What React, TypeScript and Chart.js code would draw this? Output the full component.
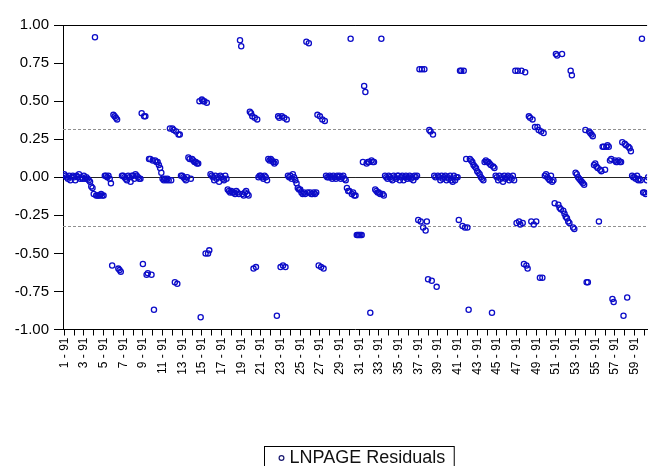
import { useEffect, useRef } from 'react';
import { Chart, registerables } from 'chart.js';

Chart.register(...registerables);

// ---- data ----
const PERIODS_PER_UNIT = 8; // observations per cross-section
const FIRST_PERIOD = '91';
const SERIES_NAME = 'LNPAGE Residuals';
const Y_TICKS = [-1, -0.75, -0.5, -0.25, 0, 0.25, 0.5, 0.75, 1];
const ZERO_LINE = [0];
const BAND_LINES = [0.32, -0.32];

const residuals01to10: number[][] = [
  [0.02, 0.01, 0.0, -0.01, 0.01, -0.02, 0.0, 0.01],
  [0.0, -0.02, 0.01, 0.0, 0.02, -0.01, 0.0, -0.01],
  [0.01, -0.01, 0.0, -0.01, -0.02, -0.03, -0.06, -0.07],
  [-0.11, 0.92, -0.12, -0.12, -0.12, -0.12, -0.11, -0.12],
  [-0.12, 0.01, 0.01, 0.0, 0.01, -0.01, -0.04, -0.58],
  [0.41, 0.4, 0.39, 0.38, -0.6, -0.61, -0.62, 0.01],
  [0.01, 0.0, -0.01, -0.02, 0.01, 0.0, -0.03, 0.01],
  [0.01, -0.01, 0.02, 0.01, 0.0, -0.01, -0.01, 0.42],
  [-0.57, 0.4, 0.4, -0.64, -0.63, 0.12, 0.12, -0.64],
  [0.11, -0.87, 0.11, 0.1, 0.1, 0.08, 0.06, 0.03],
];
const residuals11to20: number[][] = [
  [-0.01, -0.02, -0.01, -0.02, -0.01, -0.02, 0.32, -0.02],
  [0.32, 0.31, -0.69, 0.3, -0.7, 0.28, 0.28, 0.01],
  [0.01, 0.0, -0.01, -0.02, 0.0, 0.13, 0.12, -0.01],
  [0.12, 0.11, 0.1, 0.1, 0.09, 0.09, 0.5, -0.92],
  [0.51, 0.5, 0.5, -0.5, 0.49, -0.5, -0.48, 0.02],
  [0.01, 0.0, -0.02, 0.01, -0.01, 0.0, -0.03, 0.01],
  [0.0, -0.01, -0.02, 0.01, -0.01, -0.08, -0.09, -0.1],
  [-0.09, -0.1, -0.1, -0.11, -0.09, -0.1, -0.11, 0.9],
  [0.86, -0.11, -0.12, -0.1, -0.09, -0.11, -0.12, 0.43],
  [0.42, 0.4, -0.6, 0.39, -0.59, 0.38, 0.0, 0.01],
];
const residuals21to30: number[][] = [
  [0.01, 0.0, -0.01, 0.01, 0.0, -0.02, 0.12, 0.11],
  [0.12, 0.11, 0.1, 0.09, 0.1, -0.91, 0.4, 0.39],
  [-0.59, 0.4, -0.58, 0.39, -0.59, 0.38, 0.01, 0.0],
  [0.01, -0.01, 0.02, 0.0, -0.02, -0.04, -0.07, -0.08],
  [-0.08, -0.1, -0.11, -0.1, -0.11, 0.89, -0.1, 0.88],
  [-0.1, -0.11, -0.11, -0.1, -0.11, -0.1, 0.41, -0.58],
  [0.4, -0.59, 0.38, -0.6, 0.37, 0.01, 0.0, 0.0],
  [0.01, 0.0, -0.01, 0.01, 0.0, -0.01, 0.01, 0.0],
  [0.01, -0.01, 0.0, 0.01, -0.01, -0.02, -0.07, -0.09],
  [-0.09, 0.91, -0.11, -0.1, -0.12, -0.12, -0.38, -0.38],
];
const residuals31to40: number[][] = [
  [-0.38, -0.38, -0.38, 0.1, 0.6, 0.56, 0.09, 0.1],
  [0.1, -0.89, 0.11, 0.1, 0.1, -0.08, -0.09, -0.1],
  [-0.1, -0.11, 0.91, -0.11, -0.12, 0.01, 0.0, -0.01],
  [0.01, 0.0, -0.01, -0.02, 0.01, 0.0, -0.01, 0.01],
  [0.01, -0.02, 0.0, 0.01, -0.02, 0.0, 0.01, -0.01],
  [0.0, 0.01, -0.01, 0.0, -0.02, 0.01, 0.0, 0.01],
  [-0.28, 0.71, -0.29, 0.71, -0.33, 0.71, -0.35, -0.29],
  [-0.67, 0.31, 0.3, -0.68, 0.28, 0.01, 0.0, -0.72],
  [0.01, 0.0, -0.02, 0.01, -0.01, 0.0, 0.01, -0.02],
  [0.0, -0.01, 0.01, -0.02, -0.03, 0.01, -0.02, 0.0],
];
const residuals41to50: number[][] = [
  [0.0, -0.28, 0.7, 0.7, -0.32, 0.7, -0.33, 0.12],
  [-0.33, -0.87, 0.12, 0.11, 0.1, 0.08, 0.07, 0.06],
  [0.04, 0.03, 0.02, 0.0, -0.01, -0.02, 0.1, 0.11],
  [0.1, 0.1, 0.09, 0.08, -0.89, 0.07, 0.06, 0.01],
  [0.0, -0.02, 0.01, -0.01, 0.0, -0.03, 0.01, -0.01],
  [0.0, 0.01, -0.02, 0.0, -0.01, 0.01, -0.02, 0.7],
  [-0.3, 0.7, -0.29, -0.31, 0.7, -0.3, -0.57, 0.69],
  [-0.58, -0.6, 0.4, 0.39, -0.29, 0.38, -0.31, 0.33],
  [-0.29, 0.33, 0.31, -0.66, 0.3, -0.66, 0.29, 0.01],
  [0.02, 0.0, -0.01, -0.02, 0.01, -0.03, -0.02, -0.17],
];
const residuals51to60: number[][] = [
  [0.81, 0.8, -0.18, -0.2, -0.21, 0.81, -0.22, -0.24],
  [-0.26, -0.27, -0.29, -0.3, 0.7, 0.67, -0.33, -0.34],
  [0.03, 0.02, 0.0, -0.01, -0.02, -0.03, -0.04, -0.05],
  [0.31, -0.69, -0.69, 0.3, 0.29, 0.28, 0.27, 0.08],
  [0.09, 0.07, 0.06, -0.29, 0.05, 0.04, 0.2, 0.2],
  [0.05, 0.2, 0.21, 0.2, 0.11, 0.12, -0.8, -0.82],
  [0.11, 0.1, 0.1, 0.11, 0.1, 0.1, 0.23, -0.91],
  [0.22, 0.21, -0.79, 0.2, 0.19, 0.17, 0.01, 0.0],
  [0.0, -0.01, 0.01, -0.02, -0.01, -0.02, 0.91, -0.1],
  [-0.1, -0.11, -0.02, 0.0, -0.01, 0.01, -0.02, 0.0],
];

const allUnits = [
  ...residuals01to10,
  ...residuals11to20,
  ...residuals21to30,
  ...residuals31to40,
  ...residuals41to50,
  ...residuals51to60,
];

const FONT = '"Liberation Sans", Arial, sans-serif';
const POINT_COLOR = '#0c0cc8';

export default function App() {
  const ref = useRef<HTMLCanvasElement>(null);

  useEffect(() => {
    const points = allUnits.flatMap((unit, c) =>
      unit.map((v, t) => ({ x: c * PERIODS_PER_UNIT + t, y: v }))
    );
    const unitTicks = allUnits.map((_, c) => ({ value: c * PERIODS_PER_UNIT }));

    const decor = {
      id: 'decor',
      beforeDatasetsDraw(chart: any) {
        const { ctx, chartArea } = chart;
        const ys = chart.scales.y;
        ctx.save();
        ctx.lineWidth = 1;
        ctx.strokeStyle = '#909090';
        ctx.setLineDash([3, 2]);
        BAND_LINES.forEach((v) => {
          const py = Math.round(ys.getPixelForValue(v)) + 0.5;
          ctx.beginPath();
          ctx.moveTo(chartArea.left, py);
          ctx.lineTo(chartArea.right, py);
          ctx.stroke();
        });
        ctx.setLineDash([]);
        ctx.strokeStyle = '#222';
        ZERO_LINE.forEach((v) => {
          const py = Math.round(ys.getPixelForValue(v)) + 0.5;
          ctx.beginPath();
          ctx.moveTo(chartArea.left, py);
          ctx.lineTo(chartArea.right, py);
          ctx.stroke();
        });
        // top frame
        ctx.strokeStyle = '#000';
        ctx.beginPath();
        ctx.moveTo(chartArea.left, Math.round(chartArea.top) + 0.5);
        ctx.lineTo(chartArea.right, Math.round(chartArea.top) + 0.5);
        ctx.stroke();
        ctx.restore();
      },
      afterDraw(chart: any) {
        const { ctx, chartArea } = chart;
        ctx.save();
        ctx.font = `18px ${FONT}`;
        const tw = ctx.measureText(SERIES_NAME).width;
        const boxW = tw + 34;
        const cx = (chartArea.left + chartArea.right) / 2 + 4;
        const bx = Math.round(cx - boxW / 2) + 0.5;
        const by = 446.5;
        ctx.strokeStyle = '#000';
        ctx.lineWidth = 1;
        ctx.strokeRect(bx, by, boxW, 30);
        ctx.beginPath();
        ctx.arc(bx + 17, by + 11.5, 2.4, 0, Math.PI * 2);
        ctx.strokeStyle = '#1a1a70';
        ctx.lineWidth = 1.2;
        ctx.stroke();
        ctx.fillStyle = '#111';
        ctx.textBaseline = 'middle';
        ctx.fillText(SERIES_NAME, bx + 25, by + 12);
        ctx.restore();
      },
    };

    const chart = new Chart(ref.current!, {
      type: 'scatter',
      data: {
        datasets: [
          {
            label: SERIES_NAME,
            data: points,
            pointStyle: 'circle',
            pointRadius: 2.6,
            pointHoverRadius: 2.6,
            borderWidth: 1.3,
            borderColor: POINT_COLOR,
            backgroundColor: 'rgba(0,0,0,0)',
          },
        ],
      },
      options: {
        responsive: false,
        animation: false,
        events: [],
        layout: { padding: { top: 25, left: 0, right: 0, bottom: 0 } },
        plugins: { legend: { display: false }, tooltip: { enabled: false } },
        scales: {
          x: {
            type: 'linear',
            min: -1,
            max: 474.2,
            afterBuildTicks: (s: any) => {
              s.ticks = unitTicks.map((t) => ({ ...t }));
            },
            afterFit: (s: any) => {
              s.height = 136.5;
              s.paddingLeft = 0;
              s.paddingRight = 0;
            },
            ticks: {
              autoSkip: false,
              minRotation: 90,
              maxRotation: 90,
              padding: 2,
              color: '#000',
              font: { family: FONT, size: 12 },
              callback: (value: any) => {
                const c = Math.round(Number(value) / PERIODS_PER_UNIT);
                return c % 2 === 0 ? `${c + 1} - ${FIRST_PERIOD}` : '';
              },
            },
            grid: { drawOnChartArea: false, drawTicks: true, tickLength: 6, color: '#000' },
            border: { display: true, color: '#000', width: 1 },
          },
          y: {
            min: -1,
            max: 1,
            afterBuildTicks: (s: any) => {
              s.ticks = Y_TICKS.map((v) => ({ value: v }));
            },
            afterFit: (s: any) => {
              s.width = 63;
            },
            ticks: {
              padding: 5,
              color: '#000',
              font: { family: FONT, size: 15 },
              callback: (value: any) => Number(value).toFixed(2),
            },
            grid: { drawOnChartArea: false, drawTicks: true, tickLength: 9, color: '#000' },
            border: { display: true, color: '#000', width: 1 },
          },
        },
      },
      plugins: [decor],
    });
    return () => chart.destroy();
  }, []);

  return (
    <div style={{ position: 'fixed', left: 0, top: 0, width: 651, height: 466, background: '#fff' }}>
      <canvas ref={ref} width={651} height={466} style={{ display: 'block' }} />
    </div>
  );
}
